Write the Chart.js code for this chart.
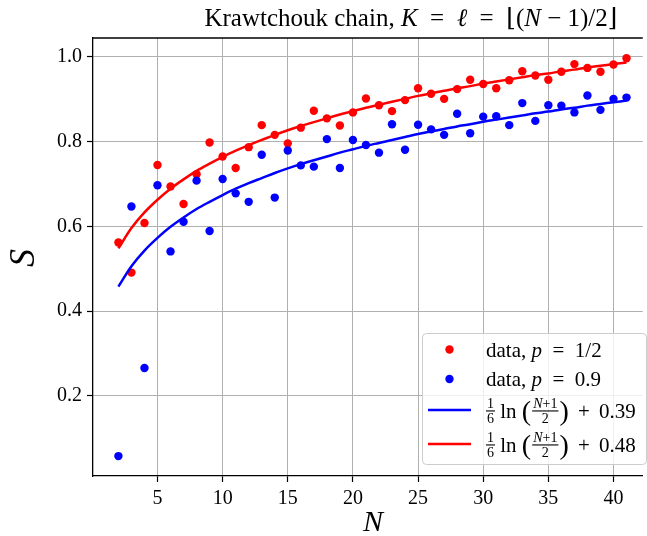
<!DOCTYPE html>
<html>
<head>
<meta charset="utf-8">
<script src="https://cdn.jsdelivr.net/npm/chart.js@4.4.0/dist/chart.umd.min.js"></script>
<style>
  html, body { margin: 0; padding: 0; background: #fff; }
  #c { display: block; }
</style>
</head>
<body>
<canvas id="c" width="647" height="536"></canvas>
<script>
// system size N
var nValues = [2, 3, 4, 5, 6, 7, 8, 9, 10, 11, 12, 13, 14, 15, 16, 17, 18, 19, 20, 21,
  22, 23, 24, 25, 26, 27, 28, 29, 30, 31, 32, 33, 34, 35, 36, 37, 38, 39, 40, 41];

// entropy S, p = 1/2
var sHalf = [0.562, 0.491, 0.608, 0.745, 0.694, 0.653, 0.723, 0.798, 0.765, 0.738,
  0.787, 0.839, 0.816, 0.796, 0.833, 0.873, 0.855, 0.838, 0.869, 0.902,
  0.886, 0.872, 0.898, 0.926, 0.913, 0.901, 0.924, 0.946, 0.936, 0.926,
  0.945, 0.966, 0.956, 0.946, 0.965, 0.983, 0.974, 0.965, 0.982, 0.997];

// entropy S, p = 0.9
var sNine = [0.058, 0.647, 0.266, 0.697, 0.541, 0.611, 0.708, 0.589, 0.712, 0.678,
  0.658, 0.769, 0.668, 0.779, 0.744, 0.741, 0.806, 0.738, 0.804, 0.792,
  0.774, 0.841, 0.781, 0.840, 0.829, 0.816, 0.866, 0.820, 0.859, 0.860,
  0.839, 0.891, 0.849, 0.886, 0.885, 0.869, 0.909, 0.875, 0.901, 0.904];

// fit curves (1/6 ln((N+1)/2) + c)
var fitBlue = [0.458, 0.506, 0.543, 0.573, 0.599, 0.621, 0.641, 0.658, 0.674, 0.689,
  0.702, 0.714, 0.726, 0.737, 0.747, 0.756, 0.765, 0.774, 0.782, 0.790,
  0.797, 0.804, 0.811, 0.818, 0.824, 0.830, 0.836, 0.841, 0.847, 0.852,
  0.857, 0.862, 0.867, 0.871, 0.876, 0.880, 0.885, 0.889, 0.893, 0.897];
var fitRed = [0.548, 0.596, 0.633, 0.663, 0.689, 0.711, 0.731, 0.748, 0.764, 0.779,
  0.792, 0.804, 0.816, 0.827, 0.837, 0.846, 0.855, 0.864, 0.872, 0.880,
  0.887, 0.894, 0.901, 0.908, 0.914, 0.920, 0.926, 0.931, 0.937, 0.942,
  0.947, 0.952, 0.957, 0.961, 0.966, 0.970, 0.975, 0.979, 0.983, 0.987];

var xTicks = [5, 10, 15, 20, 25, 30, 35, 40];
var yTicks = [0.2, 0.4, 0.6, 0.8, 1.0];

var SERIF = "'Liberation Serif', 'DejaVu Serif', serif";

function pts(ys) {
  return nValues.map(function (n, i) { return { x: n, y: ys[i] }; });
}

// draw a run of text pieces, some italic
function rich(ctx, parts, x, y, size, align) {
  var total = 0;
  parts.forEach(function (p) {
    ctx.font = (p.it ? 'italic ' : '') + size + 'px ' + SERIF;
    p.w = ctx.measureText(p.t).width;
    total += p.w;
  });
  var cx = align === 'center' ? x - total / 2 : x;
  ctx.textAlign = 'left';
  ctx.textBaseline = 'alphabetic';
  parts.forEach(function (p) {
    ctx.font = (p.it ? 'italic ' : '') + size + 'px ' + SERIF;
    ctx.fillText(p.t, cx, y);
    cx += p.w;
  });
  return cx;
}

function frac(ctx, num, den, x, y, size) {
  // num/den are arrays of parts; y = fraction bar
  var wn = 0, wd = 0;
  num.forEach(function (p) { ctx.font = (p.it ? 'italic ' : '') + size + 'px ' + SERIF; wn += ctx.measureText(p.t).width; });
  den.forEach(function (p) { ctx.font = (p.it ? 'italic ' : '') + size + 'px ' + SERIF; wd += ctx.measureText(p.t).width; });
  var w = Math.max(wn, wd) + 2;
  rich(ctx, num, x + (w - wn) / 2, y - 3, size);
  rich(ctx, den, x + (w - wd) / 2, y + size - 2, size);
  ctx.fillRect(x, y - 0.6, w, 1.1);
  return x + w;
}

function fitLabel(ctx, x, y, c) {
  // y = math axis
  var cx = frac(ctx, [{ t: '1' }], [{ t: '6' }], x, y, 14);
  cx = rich(ctx, [{ t: ' ln ' }], cx, y + 7, 21);
  ctx.font = '28px ' + SERIF;
  ctx.fillText('(', cx, y + 9);
  cx += ctx.measureText('(').width + 1;
  cx = frac(ctx, [{ t: 'N', it: true }, { t: '+1' }], [{ t: '2' }], cx, y, 14);
  ctx.font = '28px ' + SERIF;
  ctx.fillText(')', cx + 1, y + 9);
  cx += ctx.measureText(')').width + 5;
  cx = rich(ctx, [{ t: ' + ' }], cx, y + 7, 21);
  rich(ctx, [{ t: c }], cx + 4, y + 7, 21);
}

var decor = {
  id: 'decor',
  afterDraw: function (chart) {
    var ctx = chart.ctx;
    var a = chart.chartArea;
    ctx.save();
    // top spine
    ctx.strokeStyle = '#000';
    ctx.lineWidth = 1.3;
    ctx.beginPath();
    ctx.moveTo(a.left, a.top);
    ctx.lineTo(a.right, a.top);
    ctx.stroke();

    ctx.fillStyle = '#000';
    // title
    rich(ctx, [
      { t: 'Krawtchouk chain, ' }, { t: 'K', it: true }, { t: '  =  ' },
      { t: 'ℓ', it: true }, { t: '  =  ⌊(' }, { t: 'N', it: true }, { t: ' − 1)/2⌋' }
    ], 411, 26, 25, 'center');

    // axis labels
    rich(ctx, [{ t: 'N', it: true }], 373, 531, 30, 'center');
    ctx.save();
    ctx.translate(34, 258);
    ctx.rotate(-Math.PI / 2);
    rich(ctx, [{ t: 'S', it: true }], 0, 0, 36, 'center');
    ctx.restore();

    // legend box
    var lx = 422.5, ly = 333.5, lw = 224, lh = 131, r = 4;
    ctx.beginPath();
    ctx.moveTo(lx + r, ly);
    ctx.lineTo(lx + lw - r, ly);
    ctx.quadraticCurveTo(lx + lw, ly, lx + lw, ly + r);
    ctx.lineTo(lx + lw, ly + lh - r);
    ctx.quadraticCurveTo(lx + lw, ly + lh, lx + lw - r, ly + lh);
    ctx.lineTo(lx + r, ly + lh);
    ctx.quadraticCurveTo(lx, ly + lh, lx, ly + lh - r);
    ctx.lineTo(lx, ly + r);
    ctx.quadraticCurveTo(lx, ly, lx + r, ly);
    ctx.closePath();
    ctx.fillStyle = 'rgba(255,255,255,0.8)';
    ctx.fill();
    ctx.strokeStyle = '#cccccc';
    ctx.lineWidth = 1;
    ctx.stroke();

    ctx.fillStyle = '#ff0000';
    ctx.beginPath(); ctx.arc(449.5, 349.5, 4.2, 0, Math.PI * 2); ctx.fill();
    ctx.fillStyle = '#0000ff';
    ctx.beginPath(); ctx.arc(449.5, 379, 4.2, 0, Math.PI * 2); ctx.fill();
    ctx.lineWidth = 2.5;
    ctx.strokeStyle = '#0000ff';
    ctx.beginPath(); ctx.moveTo(428, 410); ctx.lineTo(471, 410); ctx.stroke();
    ctx.strokeStyle = '#ff0000';
    ctx.beginPath(); ctx.moveTo(428, 444); ctx.lineTo(471, 444); ctx.stroke();

    ctx.fillStyle = '#000';
    rich(ctx, [{ t: 'data, ' }, { t: 'p', it: true }, { t: '  =  1/2' }], 486, 357, 21);
    rich(ctx, [{ t: 'data, ' }, { t: 'p', it: true }, { t: '  =  0.9' }], 486, 386, 21);
    fitLabel(ctx, 486, 411, '0.39');
    fitLabel(ctx, 486, 445, '0.48');
    ctx.restore();
  }
};

var axisCommon = {
  grid: { color: '#b0b0b0', lineWidth: 1, tickColor: '#000', tickLength: 6, tickWidth: 1.2 },
  border: { color: '#000', width: 1.3 },
  ticks: { color: '#000', font: { family: SERIF, size: 20 }, padding: 5 }
};

new Chart(document.getElementById('c'), {
  type: 'scatter',
  data: {
    datasets: [
      { label: 'fit blue', data: pts(fitBlue), showLine: true, borderColor: '#0000ff', borderWidth: 2.5,
        pointRadius: 0, cubicInterpolationMode: 'monotone', order: 1 },
      { label: 'fit red', data: pts(fitRed), showLine: true, borderColor: '#ff0000', borderWidth: 2.5,
        pointRadius: 0, cubicInterpolationMode: 'monotone', order: 0 },
      { label: 'data, p = 1/2', data: pts(sHalf), backgroundColor: '#ff0000', borderWidth: 0,
        pointRadius: 4.2, order: 3 },
      { label: 'data, p = 0.9', data: pts(sNine), backgroundColor: '#0000ff', borderWidth: 0,
        pointRadius: 4.2, order: 2 }
    ]
  },
  options: {
    responsive: false,
    animation: false,
    layout: { padding: { top: 38, right: 0, left: 0, bottom: 0 } },
    plugins: { legend: { display: false }, tooltip: { enabled: false } },
    scales: {
      x: Object.assign({}, axisCommon, {
        type: 'linear', min: 0.05, max: 42.25,
        afterBuildTicks: function (s) { s.ticks = xTicks.map(function (v) { return { value: v }; }); },
        afterFit: function (s) { s.height = 60; }
      }),
      y: Object.assign({}, axisCommon, {
        type: 'linear', min: 0.011, max: 1.0446,
        afterBuildTicks: function (s) { s.ticks = yTicks.map(function (v) { return { value: v }; }); },
        ticks: Object.assign({}, axisCommon.ticks, {
          callback: function (v) { return v.toFixed(1); }
        }),
        afterFit: function (s) { s.width = 93; }
      })
    }
  },
  plugins: [decor]
});
</script>
</body>
</html>
